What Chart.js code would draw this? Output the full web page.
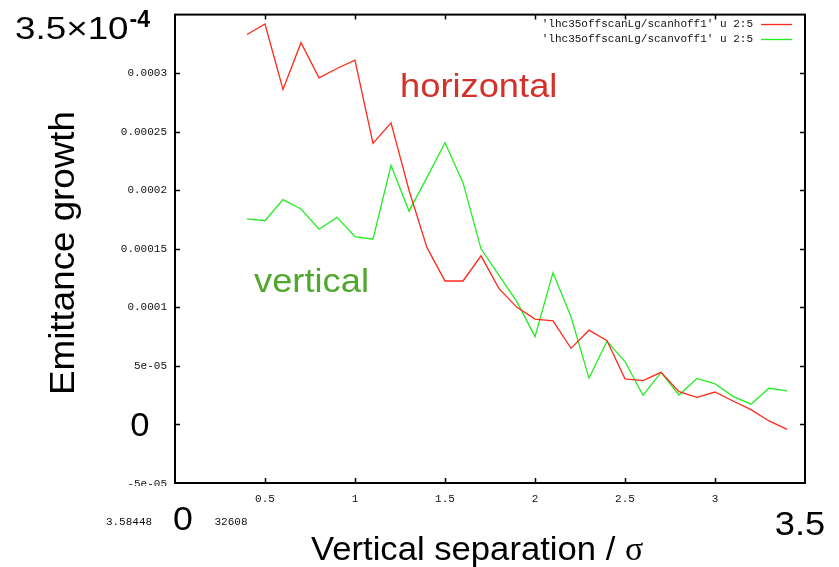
<!DOCTYPE html>
<html>
<head>
<meta charset="utf-8">
<script src="https://cdn.jsdelivr.net/npm/chart.js@4.4.1/dist/chart.umd.min.js"></script>
<style>
  html, body { margin: 0; padding: 0; background: #fff; }
  #wrap { width: 839px; height: 567px; }
</style>
</head>
<body>
<div id="wrap"><canvas id="myChart" width="839" height="567"></canvas></div>
<script>
// beam-beam offset scan: emittance growth vs vertical separation
const separation = [0.4, 0.5, 0.6, 0.7, 0.8, 0.9, 1.0, 1.1, 1.2, 1.3, 1.4, 1.5, 1.6, 1.7, 1.8, 1.9,
    2.0, 2.1, 2.2, 2.3, 2.4, 2.5, 2.6, 2.7, 2.8, 2.9, 3.0, 3.1, 3.2, 3.3, 3.4]
const horizontalGrowth = [0.000333, 0.000342, 0.000286, 0.000326, 0.000296, 0.000304, 0.000311, 0.000240,
    0.0002575, 0.000200, 0.000151, 0.0001225, 0.0001225, 0.000144, 0.000116, 0.000100,
    0.0000900, 0.0000885, 0.0000650, 0.0000805, 0.0000715, 0.0000390, 0.0000375, 0.0000445,
    0.0000280, 0.0000232, 0.0000277, 0.0000200, 0.0000127, 0.0000030, -0.0000042]
const verticalGrowth = [0.0001755, 0.000174, 0.000192, 0.000184, 0.0001667, 0.0001768, 0.0001604, 0.0001582,
    0.0002213, 0.0001822, 0.000211, 0.0002405, 0.0002065, 0.000150, 0.0001273, 0.0001047,
    0.0000750, 0.0001296, 0.0000920, 0.0000396, 0.0000710, 0.0000537, 0.0000249, 0.0000444,
    0.0000252, 0.0000393, 0.0000347, 0.0000240, 0.0000173, 0.0000309, 0.0000287]

const yTickValues = [0.0003, 0.00025, 0.0002, 0.00015, 0.0001, 0.00005]
const yTickLabels = ['0.0003', '0.00025', '0.0002', '0.00015', '0.0001', '5e-05']
const xTickValues = [0.5, 1, 1.5, 2, 2.5, 3]
const xTickLabels = ['0.5', '1', '1.5', '2', '2.5', '3']
const legendLabels = ["'lhc35offscanLg/scanhoff1' u 2:5", "'lhc35offscanLg/scanvoff1' u 2:5"]

const redLine = '#ff2a1a'
const greenLine = '#22ee22'
const monoFont = '"Liberation Mono", "DejaVu Sans Mono", monospace'
const sansFont = '"Liberation Sans", Arial, sans-serif'

function toPoints(xs, ys) {
    return xs.map((x, i) => ({x: x, y: ys[i]}))
}

function lookupLabel(values, labels, v) {
    for (let i = 0; i < values.length; i++) {
        if (Math.abs(values[i] - v) < 1e-9) return labels[i]
    }
    return ''
}

// stretched helvetica-like text, as gnuplot's postscript output looks
function wideText(ctx, text, x, y, size, color, align, stretch) {
    ctx.save()
    ctx.font = size + 'px ' + sansFont
    ctx.fillStyle = color
    ctx.textBaseline = 'alphabetic'
    let w = ctx.measureText(text).width * stretch
    let left = align === 'center' ? x - w / 2 : (align === 'right' ? x - w : x)
    ctx.translate(left, y)
    ctx.scale(stretch, 1)
    ctx.textAlign = 'left'
    ctx.fillText(text, 0, 0)
    ctx.restore()
    return w
}

const framePlugin = {
    id: 'framePlugin',
    afterDraw(chart) {
        const ctx = chart.ctx
        const area = chart.chartArea
        const xs = chart.scales.x
        const ys = chart.scales.y

        ctx.save()
        // border box
        ctx.strokeStyle = '#000'
        ctx.lineWidth = 2
        ctx.strokeRect(area.left, area.top, area.right - area.left, area.bottom - area.top)

        // inward tick marks on all four sides
        ctx.lineWidth = 1.5
        ctx.beginPath()
        xTickValues.forEach(v => {
            let px = Math.round(xs.getPixelForValue(v)) + 0.5
            ctx.moveTo(px, area.bottom); ctx.lineTo(px, area.bottom - 5)
            ctx.moveTo(px, area.top); ctx.lineTo(px, area.top + 5)
        })
        yTickValues.concat([0]).forEach(v => {
            let py = Math.round(ys.getPixelForValue(v)) + 0.5
            ctx.moveTo(area.left, py); ctx.lineTo(area.left + 5, py)
            ctx.moveTo(area.right, py); ctx.lineTo(area.right - 5, py)
        })
        ctx.stroke()

        // lowest y label, cut off by the axis line
        ctx.save()
        ctx.beginPath()
        ctx.rect(100, 470, 70, 16)
        ctx.clip()
        ctx.font = '11px ' + monoFont
        ctx.fillStyle = '#111'
        ctx.textAlign = 'right'
        ctx.textBaseline = 'middle'
        ctx.fillText('-5e-05', 167, ys.getPixelForValue(-0.00005) + 1)
        ctx.restore()

        // leftover bounding-box numbers from the axis relabelling
        ctx.font = '11px ' + monoFont
        ctx.fillStyle = '#111'
        ctx.textAlign = 'center'
        ctx.textBaseline = 'middle'
        ctx.fillText('3.58448', 129, 522)
        ctx.fillText('32608', 231, 522)

        // big relabelled axis ends
        let zeroY = ys.getPixelForValue(0)
        wideText(ctx, '0', 140, zeroY + 12, 33, '#000', 'center', 1.05)
        wideText(ctx, '0', 183, 530, 34, '#000', 'center', 1.05)
        wideText(ctx, '3.5', 800, 535, 33, '#000', 'center', 1.1)
        let w = wideText(ctx, '3.5\u00d710', 15, 39, 32, '#000', 'left', 1.15)
        ctx.save()
        ctx.font = 'bold 23px ' + sansFont
        ctx.fillStyle = '#000'
        ctx.textAlign = 'left'
        ctx.textBaseline = 'alphabetic'
        ctx.fillText('-4', 15 + w + 1, 27)
        ctx.restore()

        // axis titles
        let tw = wideText(ctx, 'Vertical separation / ', 311, 560, 33, '#000', 'left', 1.05)
        ctx.font = '34px "Liberation Serif", "DejaVu Serif", serif'
        ctx.fillStyle = '#000'
        ctx.textAlign = 'left'
        ctx.textBaseline = 'alphabetic'
        ctx.fillText('\u03c3', 311 + tw, 560)

        ctx.save()
        ctx.translate(74, 253)
        ctx.rotate(-Math.PI / 2)
        wideText(ctx, 'Emittance growth', 0, 0, 35, '#000', 'center', 1.05)
        ctx.restore()

        // curve labels
        wideText(ctx, 'horizontal', 400, 97, 33, '#d2322a', 'left', 1.1)
        wideText(ctx, 'vertical', 254, 292, 33, '#4ea82c', 'left', 1.1)

        // gnuplot key, text right aligned with line sample after it
        ctx.font = '11px ' + monoFont
        ctx.fillStyle = '#111'
        ctx.textAlign = 'right'
        ctx.textBaseline = 'middle'
        const keyColors = [redLine, greenLine]
        legendLabels.forEach((label, i) => {
            let ky = 24 + i * 15
            ctx.fillText(label, 753, ky)
            ctx.strokeStyle = keyColors[i]
            ctx.lineWidth = 1.3
            ctx.beginPath()
            ctx.moveTo(761, ky + 0.5)
            ctx.lineTo(792, ky + 0.5)
            ctx.stroke()
        })
        ctx.restore()
    }
}

let ctx = document.getElementById('myChart')
let myChart = new Chart(ctx, {
    type: 'line',
    data: {
        datasets: [{
            label: legendLabels[0],
            data: toPoints(separation, horizontalGrowth),
            borderColor: redLine,
            borderWidth: 1.3,
            pointRadius: 0,
            tension: 0,
            fill: false
        }, {
            label: legendLabels[1],
            data: toPoints(separation, verticalGrowth),
            borderColor: greenLine,
            borderWidth: 1.3,
            pointRadius: 0,
            tension: 0,
            fill: false
        }]
    },
    options: {
        responsive: false,
        animation: false,
        layout: {
            padding: {left: 0, top: 12, right: 34, bottom: 0}
        },
        plugins: {
            legend: {display: false},
            tooltip: {enabled: false}
        },
        scales: {
            x: {
                type: 'linear',
                min: 0,
                max: 3.5,
                grid: {display: false, drawTicks: false},
                border: {display: false},
                afterFit(scale) { scale.height = 84 },
                ticks: {
                    stepSize: 0.5,
                    autoSkip: false,
                    maxRotation: 0,
                    padding: 9,
                    color: '#111',
                    font: {family: monoFont, size: 11},
                    callback: value => lookupLabel(xTickValues, xTickLabels, value)
                }
            },
            y: {
                type: 'linear',
                min: -0.00005,
                max: 0.00035,
                grid: {display: false, drawTicks: false},
                border: {display: false},
                afterFit(scale) { scale.width = 175 },
                ticks: {
                    stepSize: 0.00005,
                    autoSkip: false,
                    padding: 8,
                    color: '#111',
                    font: {family: monoFont, size: 11},
                    callback: value => lookupLabel(yTickValues, yTickLabels, value)
                }
            }
        }
    },
    plugins: [framePlugin]
})
</script>
</body>
</html>
